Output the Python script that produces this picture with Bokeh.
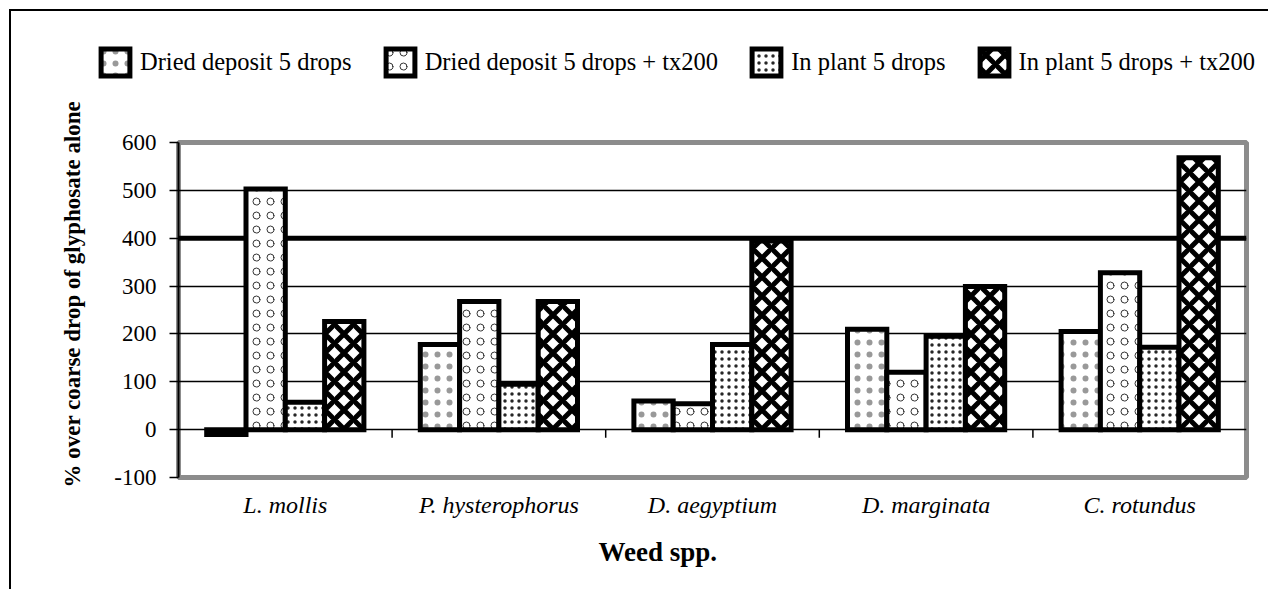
from bokeh.plotting import figure
from bokeh.layouts import column
from bokeh.models import (FactorRange, Range1d, FixedTicker, Span, Legend, LegendItem,
                          Title, ColumnDataSource)
from bokeh.transform import dodge
from bokeh.embed import file_html
from bokeh.resources import INLINE

# ---- data ----
categories = ["L. mollis", "P. hysterophorus", "D. aegyptium", "D. marginata", "C. rotundus"]
dried_5 = [-10, 178, 60, 210, 205]
dried_5_tx = [503, 268, 54, 120, 328]
inplant_5 = [57, 95, 178, 195, 172]
inplant_5_tx = [226, 268, 394, 299, 568]
series_names = ["Dried deposit 5 drops", "Dried deposit 5 drops + tx200",
                "In plant 5 drops", "In plant 5 drops + tx200"]
y_ticks = [-100, 0, 100, 200, 300, 400, 500, 600]
y_tick_labels = ["-100", "0", "100", "200", "300", "400", "500", "600"]
y_title = "% over coarse drop of glyphosate alone"
x_title = "Weed spp."

source = ColumnDataSource(dict(cat=categories, s1=dried_5, s2=dried_5_tx,
                               s3=inplant_5, s4=inplant_5_tx))

FONT = "Liberation Serif"
W = 1257
LEG_H = 85
MAIN_H = 493

# (pattern, scale, weight, alpha)
hatches = [(".", 12, 1.0, 0.4), ("o", 14, 0.8, 1.0), (".", 7, 1.0, 0.85), ("x", 19, 5.0, 1.0)]
bar_style = dict(fill_color="white", line_color="black", line_width=5,
                 line_join="miter", hatch_color="black")
bw = 0.184
offsets = [-1.5 * bw, -0.5 * bw, 0.5 * bw, 1.5 * bw]
keys = ["s1", "s2", "s3", "s4"]

# ---------------- main chart ----------------
p = figure(x_range=FactorRange(factors=categories, range_padding=0),
           y_range=Range1d(-100, 600),
           width=W, height=MAIN_H, output_backend="svg", toolbar_location=None,
           min_border_left=167, min_border_right=22, min_border_top=46,
           min_border_bottom=112)
p.frame_align = False
p.background_fill_color = "white"
p.border_fill_color = "white"
p.outline_line_color = "#8c8c8c"
p.outline_line_width = 5

p.xgrid.visible = False
p.ygrid.ticker = FixedTicker(ticks=y_ticks)
p.ygrid.grid_line_color = "black"
p.ygrid.grid_line_width = 1.5
p.add_layout(Span(location=400, dimension="width", line_color="black",
                  line_width=5, level="underlay"))

p.yaxis.ticker = FixedTicker(ticks=y_ticks)
p.yaxis.major_label_overrides = dict(zip(y_ticks, y_tick_labels))
p.yaxis.axis_line_color = "black"
p.yaxis.axis_line_width = 2
p.yaxis.major_tick_out = 9
p.yaxis.major_tick_in = 0
p.yaxis.major_tick_line_width = 1.5
p.yaxis.minor_tick_line_color = None
p.yaxis.major_label_standoff = 13
p.yaxis.major_label_text_font = FONT
p.yaxis.major_label_text_font_size = "23px"
p.yaxis.major_label_text_color = "black"

p.xaxis.axis_line_color = None
p.xaxis.major_tick_line_color = None
p.xaxis.minor_tick_line_color = None
p.xaxis.major_label_standoff = 8
p.xaxis.major_label_text_font = FONT
p.xaxis.major_label_text_font_style = "italic"
p.xaxis.major_label_text_font_size = "24px"
p.xaxis.major_label_text_color = "black"

boundaries = list(range(1, len(categories)))
p.segment(x0=boundaries, y0=[0] * len(boundaries), x1=boundaries,
          y1=[-17] * len(boundaries), line_color="black", line_width=1.5)

for key, off, (hp, hs, hw, ha) in zip(keys, offsets, hatches):
    p.vbar(x=dodge("cat", off, range=p.x_range), top=key, bottom=0, width=bw,
           source=source, hatch_pattern=hp, hatch_scale=hs, hatch_weight=hw,
           hatch_alpha=ha, **bar_style)

p.add_layout(Title(text=y_title, align="left", offset=-10, vertical_align="middle",
                   standoff=51, text_font=FONT, text_font_style="bold",
                   text_font_size="23px", text_color="black"), "left")
p.add_layout(Title(text=x_title, align="left", offset=420, vertical_align="middle",
                   standoff=30, text_font=FONT, text_font_style="bold",
                   text_font_size="27px", text_color="black"), "below")

# ---------------- legend strip ----------------
pl = figure(width=W, height=LEG_H, x_range=FactorRange(factors=categories, range_padding=0),
            y_range=Range1d(0, 1), output_backend="svg", toolbar_location=None,
            x_axis_location=None, y_axis_location=None, min_border=0)
pl.frame_align = False
pl.outline_line_color = None
pl.background_fill_color = "white"
pl.border_fill_color = "white"
pl.grid.visible = False
items = []
for name, key, off, (hp, hs, hw, ha) in zip(series_names, keys, offsets, hatches):
    r = pl.vbar(x=dodge("cat", off, range=pl.x_range), top=key, bottom=0, width=bw,
                source=source, hatch_pattern=hp, hatch_scale=hs, hatch_weight=hw,
                hatch_alpha=ha, visible=False, **bar_style)
    items.append(LegendItem(label=name, renderers=[r]))
legend = Legend(items=items, location=(86, 17), orientation="horizontal", padding=0,
                margin=0, spacing=30, glyph_width=36, glyph_height=34, label_height=34,
                label_standoff=7, label_text_font=FONT, label_text_font_size="24.5px",
                label_text_color="black", border_line_color=None,
                background_fill_alpha=0, inactive_fill_alpha=0)
pl.add_layout(legend)

layout = column(pl, p, spacing=0,
                styles={"margin-left": "9px", "margin-top": "9px",
                        "border-left": "2px solid black", "border-top": "2px solid black"})

open("out.html", "w").write(file_html(layout, INLINE))
